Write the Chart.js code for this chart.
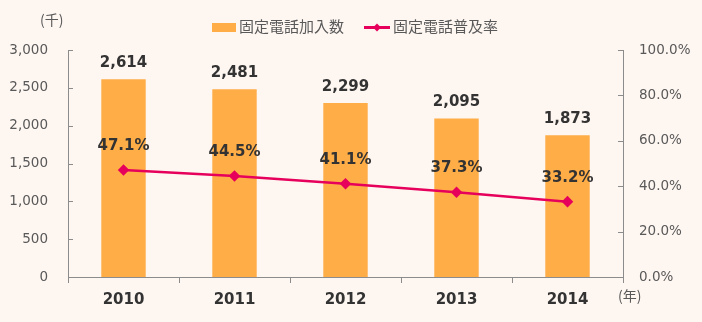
<!DOCTYPE html>
<html lang="ja">
<head>
<meta charset="utf-8">
<title>固定電話加入数と普及率</title>
<script src="https://cdn.jsdelivr.net/npm/chart.js@4/dist/chart.umd.min.js"></script>
<style>
  html, body { margin: 0; padding: 0; background: #fef6f1; }
  #wrap { width: 702px; height: 322px; }
</style>
</head>
<body>
<div id="wrap"><canvas id="c" width="702" height="322"></canvas></div>
<script>
// 年次データ
const years = ['2010', '2011', '2012', '2013', '2014'];
const subscribers = [2614, 2481, 2299, 2095, 1873];   // 固定電話加入数（千）
const penetration = [47.1, 44.5, 41.1, 37.3, 33.2];    // 固定電話普及率（%）
const leftTicks = [0, 500, 1000, 1500, 2000, 2500, 3000];
const rightTicks = [0, 20, 40, 60, 80, 100];

const FONT = "'DejaVu Sans', Verdana, 'Noto Sans CJK JP', sans-serif";
const JP_FONT = "'Noto Sans CJK JP', 'DejaVu Sans', sans-serif";
const BAR_COLOR = '#ffad47';
const LINE_COLOR = '#e6005c';
const AXIS_COLOR = '#8c8c8c';
const TEXT_COLOR = '#595959';
const LABEL_COLOR = '#333333';

// 軸の内向き目盛り・単位・凡例・値ラベルを描くプラグイン
const decorations = {
  id: 'decorations',
  afterDatasetsDraw(chart) {
    const ctx = chart.ctx;
    const area = chart.chartArea;
    const yL = chart.scales.y, yR = chart.scales.y1;
    ctx.save();
    ctx.strokeStyle = AXIS_COLOR;
    ctx.lineWidth = 1;
    leftTicks.forEach(v => {
      const py = Math.round(yL.getPixelForValue(v)) + 0.5;
      ctx.beginPath();
      ctx.moveTo(area.left, py);
      ctx.lineTo(area.left + 5, py);
      ctx.stroke();
    });
    rightTicks.forEach(v => {
      const py = Math.round(yR.getPixelForValue(v)) + 0.5;
      ctx.beginPath();
      ctx.moveTo(area.right - 5, py);
      ctx.lineTo(area.right, py);
      ctx.stroke();
    });

    // 単位
    ctx.fillStyle = TEXT_COLOR;
    ctx.font = '14px ' + JP_FONT;
    ctx.textBaseline = 'middle';
    ctx.textAlign = 'left';
    ctx.fillText('(千)', 40, 20);
    ctx.fillText('(年)', 618, 296);

    // 値ラベル
    ctx.fillStyle = LABEL_COLOR;
    ctx.font = 'bold 15px ' + FONT;
    ctx.textAlign = 'center';
    ctx.textBaseline = 'alphabetic';
    chart.getDatasetMeta(1).data.forEach((bar, i) => {
      ctx.fillText(subscribers[i].toLocaleString('en-US'), bar.x, bar.y - 12);
    });
    chart.getDatasetMeta(0).data.forEach((pt, i) => {
      ctx.fillText(penetration[i].toFixed(1) + '%', pt.x, pt.y - 20);
    });

    // 凡例
    ctx.fillStyle = BAR_COLOR;
    ctx.fillRect(212, 23, 24, 9);
    ctx.fillStyle = TEXT_COLOR;
    ctx.font = '15px ' + JP_FONT;
    ctx.textAlign = 'left';
    ctx.textBaseline = 'middle';
    ctx.fillText('固定電話加入数', 239, 26);
    ctx.strokeStyle = LINE_COLOR;
    ctx.lineWidth = 3;
    ctx.beginPath();
    ctx.moveTo(364, 27.5);
    ctx.lineTo(390, 27.5);
    ctx.stroke();
    ctx.fillStyle = LINE_COLOR;
    ctx.beginPath();
    ctx.moveTo(377, 23.5);
    ctx.lineTo(381, 27.5);
    ctx.lineTo(377, 31.5);
    ctx.lineTo(373, 27.5);
    ctx.closePath();
    ctx.fill();
    ctx.fillStyle = TEXT_COLOR;
    ctx.fillText('固定電話普及率', 393, 26);
    ctx.restore();
  }
};

new Chart(document.getElementById('c'), {
  data: {
    labels: years,
    datasets: [
      {
        type: 'line',
        label: '固定電話普及率',
        data: penetration,
        yAxisID: 'y1',
        borderColor: LINE_COLOR,
        backgroundColor: LINE_COLOR,
        borderWidth: 2.5,
        pointStyle: 'rectRot',
        pointRadius: 4,
        pointHoverRadius: 4,
        tension: 0,
        order: 0
      },
      {
        type: 'bar',
        label: '固定電話加入数',
        data: subscribers,
        yAxisID: 'y',
        backgroundColor: BAR_COLOR,
        barPercentage: 0.4,
        categoryPercentage: 1.0,
        order: 1
      }
    ]
  },
  options: {
    responsive: false,
    animation: false,
    devicePixelRatio: 1,
    layout: { padding: { top: 50, left: 0, right: 0, bottom: 0 } },
    plugins: {
      legend: { display: false },
      tooltip: { enabled: false }
    },
    scales: {
      x: {
        offset: true,
        border: { display: true, color: AXIS_COLOR, width: 1 },
        grid: {
          offset: true,
          drawOnChartArea: false,
          drawTicks: true,
          tickLength: 6,
          color: AXIS_COLOR
        },
        ticks: {
          color: LABEL_COLOR,
          font: { family: FONT, size: 15, weight: 'bold' },
          padding: 8,
          maxRotation: 0
        },
        afterFit(scale) { scale.height = 45; }
      },
      y: {
        position: 'left',
        min: 0,
        max: 3000,
        border: { display: true, color: AXIS_COLOR, width: 1 },
        grid: { display: false, drawTicks: false },
        ticks: {
          stepSize: 500,
          color: TEXT_COLOR,
          font: { family: FONT, size: 13.5 },
          padding: 20,
          callback: v => v.toLocaleString('en-US')
        },
        afterFit(scale) { scale.width = 68; }
      },
      y1: {
        position: 'right',
        min: 0,
        max: 100,
        border: { display: true, color: AXIS_COLOR, width: 1 },
        grid: { display: false, drawTicks: false },
        ticks: {
          stepSize: 20,
          color: TEXT_COLOR,
          font: { family: FONT, size: 13.5 },
          padding: 16,
          callback: v => v.toFixed(1) + '%'
        },
        afterFit(scale) { scale.width = 79; }
      }
    }
  },
  plugins: [decorations]
});
</script>
</body>
</html>
